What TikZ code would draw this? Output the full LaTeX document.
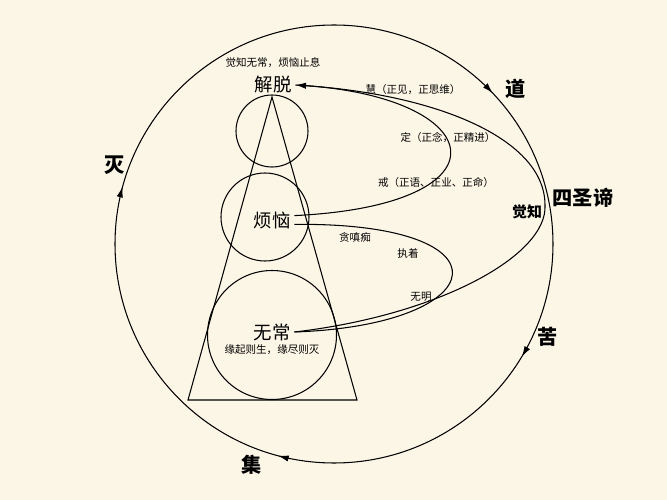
\documentclass[tikz,border=0pt]{standalone}
\usepackage{fontspec}
\setmainfont{Noto Sans CJK SC}
\usetikzlibrary{arrows.meta,decorations.markings}
\definecolor{paper}{RGB}{252,246,230}

\begin{document}
\begin{tikzpicture}[x=0.02cm, y=-0.02cm, line width=0.6pt,
  word/.style={inner sep=2pt, font=\fontsize{10.5}{12}\selectfont},
  note/.style={inner sep=1pt, font=\fontsize{6}{7}\selectfont},
  truth/.style={inner sep=1pt, font=\bfseries\fontsize{11.5}{13}\selectfont},
  tip/.style={-{Latex[length=6pt,width=3.6pt]}}]

\fill[paper] (0,0) rectangle (667,500);
\useasboundingbox (0,0) rectangle (667,500);


\draw[postaction={decorate}, decoration={markings,
    mark=at position 0.086 with {\arrow{Latex[length=6pt,width=3.6pt]}},
    mark=at position 0.291 with {\arrow{Latex[length=6pt,width=3.6pt]}},
    mark=at position 0.542 with {\arrow{Latex[length=6pt,width=3.6pt]}},
    mark=at position 0.879 with {\arrow{Latex[length=6pt,width=3.6pt]}}}]
  (334,244) circle (219);

\node[truth] (dao) at (516,89) {道};
\node[truth] (ku) at (548,337) {苦};
\node[truth] (ji) at (252,465) {集};
\node[truth] (mie) at (115,165) {灭};
\node[truth] (sishengdi) at (583,198) {四圣谛};


\draw (272,97) -- (357,400) -- (188,400) -- cycle;
\draw (272,131) circle (36);
\draw (265,217) circle (44);
\draw (272,335) circle (64.5);

\node[word] (jietuo) at (273,85) {解脱};
\node[note] (motto) at (273,63) {觉知无常，烦恼止息};
\node[word] (fannao) at (272,220) {烦恼};
\node[word] (wuchang) at (272,332) {无常};
\node[note] (yuanqi) at (272,350) {缘起则生，缘尽则灭};


\draw[tip] (wuchang.east) .. controls (440,315) and (548,255) .. (545,205)
  .. controls (545,140) and (440,95) .. (jietuo.east);
\draw ([yshift=2.5pt]fannao.east) .. controls (515,205) and (490,95) .. (jietuo.east);
\draw ([yshift=-2.5pt]fannao.east) .. controls (515,222) and (495,325) .. (wuchang.east);

\node[truth, font=\bfseries\fontsize{8.5}{10}\selectfont] (juezhi) at (527,212) {觉知};
\node[note] (hui) at (413,90) {慧（正见，正思维）};
\node[note] (ding) at (448,138) {定（正念，正精进）};
\node[note] (jie) at (436,182) {戒（正语、正业、正命）};
\node[note] (tanchenchi) at (355,237) {贪嗔痴};
\node[note] (zhizhuo) at (408,253) {执着};
\node[note] (wuming) at (421,297) {无明};

\end{tikzpicture}
\end{document}
